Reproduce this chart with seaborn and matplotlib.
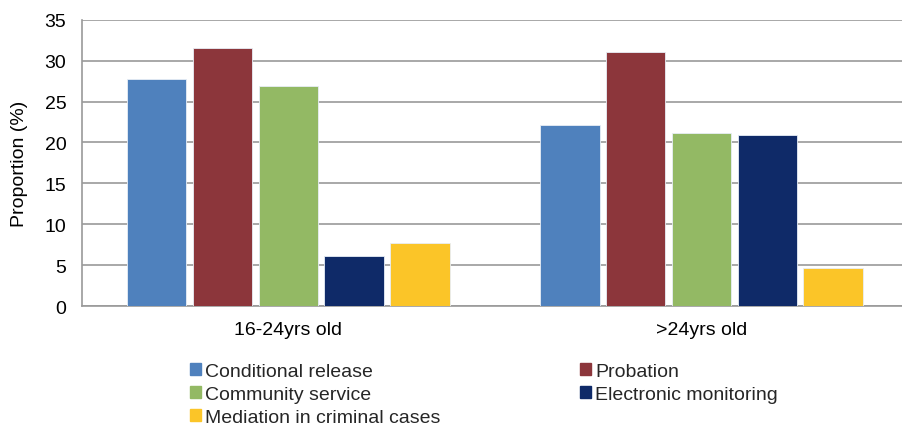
import matplotlib
matplotlib.use("Agg")
import matplotlib.pyplot as plt
import matplotlib.patches as mpatches
import seaborn as sns
import pandas as pd

groups = ["16-24yrs old", ">24yrs old"]
series = ["Conditional release", "Probation", "Community service",
          "Electronic monitoring", "Mediation in criminal cases"]
vals_16_24 = [27.8, 31.5, 26.9, 6.1, 7.7]
vals_over24 = [22.1, 31.05, 21.1, 20.95, 4.6]
colors = ["#4F81BD", "#8C363B", "#93B964", "#0F2A68", "#FBC528"]
yticks = [0, 5, 10, 15, 20, 25, 30, 35]

rows = []
for g, vals in zip(groups, [vals_16_24, vals_over24]):
    for s, v in zip(series, vals):
        rows.append({"group": g, "series": s, "value": v})
df = pd.DataFrame(rows)

sns.set_theme(style="white")
plt.rcParams["font.family"] = ["Liberation Sans", "DejaVu Sans"]
FS = 14

fig = plt.figure(figsize=(9.02, 4.27), dpi=100)
ax = fig.add_axes([81.7/902, 1 - 307/427, 826.4/902, (307-20.7)/427])

sns.barplot(data=df, x="group", y="value", hue="series", order=groups,
            hue_order=series, palette=colors, saturation=1, width=0.797, gap=0.097,
            edgecolor="#e8eef6", linewidth=0.6, ax=ax, legend=False, zorder=3)

ax.set_ylim(0, 35)
ax.set_xlim(-0.5, 1.5)
ax.set_yticks(yticks)
ax.set_yticklabels([str(t) for t in yticks], fontsize=FS)
ax.yaxis.grid(True, color="#9a9a9a", linewidth=1.2, zorder=0)
ax.set_axisbelow(True)
for side in ["top", "right"]:
    ax.spines[side].set_visible(False)
ax.spines["left"].set_color("#9a9a9a")
ax.spines["bottom"].set_color("#9a9a9a")
ax.spines["left"].set_linewidth(1.2)
ax.spines["bottom"].set_linewidth(1.2)
ax.tick_params(axis="y", which="major", length=5, color="#9a9a9a", width=1.2, pad=6, labelcolor="#000000")
ax.tick_params(axis="x", which="major", length=0, labelsize=FS, pad=11, labelcolor="#000000")
ax.set_xticks([-0.5, 0.5, 1.5], minor=True)
ax.tick_params(axis="x", which="minor", length=5, color="#9a9a9a", width=1.2)
ax.set_xlabel("")
ax.set_ylabel("Proportion (%)", fontsize=FS, labelpad=12, color="#000000")

handles = [mpatches.Patch(color=c, label=s) for s, c in zip(series, colors)]
order = [0, 2, 4, 1, 3]
fig.legend([handles[i] for i in order], [series[i] for i in order],
           ncol=2, loc="upper left", bbox_to_anchor=(190/902, 1 - 364/427),
           frameon=False, fontsize=FS, handlelength=0.57, handleheight=0.57,
           handletextpad=0.2, labelspacing=0.31, columnspacing=7.2,
           borderaxespad=0, borderpad=0)

fig.savefig("out.png", dpi=100)
